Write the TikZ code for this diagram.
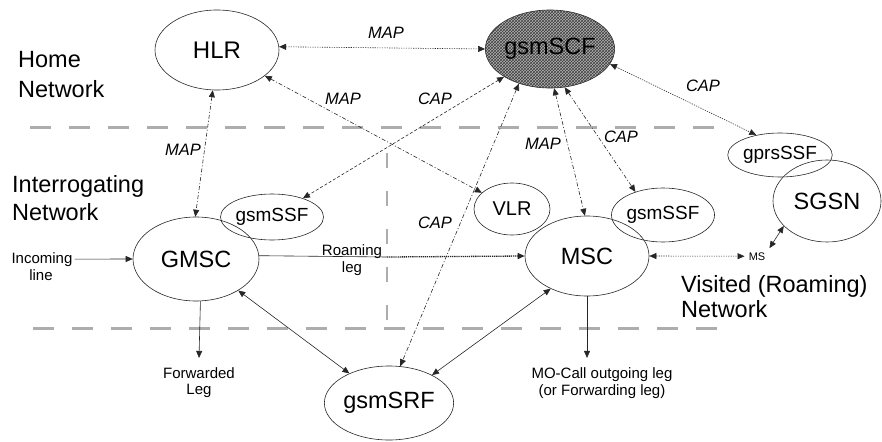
\documentclass[tikz,border=0pt]{standalone}
\usepackage{fontspec}
\setmainfont{Liberation Sans}
\usetikzlibrary{shapes.geometric,arrows.meta,patterns}

\newcommand{\fs}[1]{\fontsize{#1}{#1}\selectfont}

\begin{document}
\begin{tikzpicture}[x=1pt,y=-1pt,
  >={Triangle[length=7pt,width=6pt]},
  net/.style={ellipse, draw=black!85, line width=0.6pt, inner sep=0pt},
  big/.style={font=\fs{23.5}},
  small/.style={font=\fs{19}},
  proto/.style={font=\fs{16.5}\itshape, inner sep=0pt, anchor=base},
  note/.style={font=\fs{15}, inner sep=2pt, anchor=base},
  region/.style={font=\fs{23.5}, inner sep=0pt, anchor=base west},
  sep/.style={draw=black!32, line width=3pt, dash pattern=on 21pt off 18pt},
  vsep/.style={draw=black!32, line width=2pt, dash pattern=on 15pt off 23pt},
  link/.style={draw=black!85, line width=0.6pt},
  dotline/.style={dash pattern=on 1.2pt off 1.2pt},
  dashdot/.style={dash pattern=on 4pt off 2pt on 1pt off 2pt},
  dashline/.style={dash pattern=on 3pt off 2pt}
]
\useasboundingbox (0,0) rectangle (882,441);

% network boundaries
\draw[sep] (30,127) -- (725,127);
\draw[sep] (33,328) -- (730,328);
\draw[vsep] (387,153) -- (387,325);

% region names
\node[region] (home1) at (18,68) {Home};
\node[region] (home2) at (18,98) {Network};
\node[region] (intr1) at (12,192) {Interrogating};
\node[region] (intr2) at (12,220) {Network};
\node[region] (vis1) at (681,292) {Visited (Roaming)};
\node[region] (vis2) at (681,317) {Network};

% functional entities
\node[net, minimum width=124pt, minimum height=80pt, font=\fs{24}] (HLR) at (217,50) {HLR};
\node[net, big, minimum width=124pt, minimum height=78pt, fill=gray!60,
      postaction={pattern=crosshatch, pattern color=black!75}] (SCF) at (550,49) {gsmSCF};
\node[net, small, minimum width=86pt, minimum height=46pt] (SSFa) at (272,217) {gsmSSF};
\node[net, minimum width=76pt, minimum height=52pt, font=\fs{20}] (VLR) at (512,209) {VLR};
\node[net, small, minimum width=87pt, minimum height=54pt] (SSFb) at (663,215) {gsmSSF};
\node[net, small, minimum width=86pt, minimum height=44pt] (gprs) at (780,155) {gprsSSF};
\node[net, big, minimum width=108pt, minimum height=82pt] (SGSN) at (827,201) {SGSN};
\node[net, big, minimum width=126pt, minimum height=84pt] (GMSC) at (196,259) {GMSC};
\node[net, big, minimum width=124pt, minimum height=80pt] (MSC) at (587,256) {MSC};
\node[net, big, minimum width=122pt, minimum height=74pt] (SRF) at (389,403) {gsmSRF};

% call legs and end points
\node[note] (inc1) at (42,263) {Incoming};
\node[note] (inc2) at (41,280) {line};
\node[note, inner sep=0pt] (roam1) at (352,255) {Roaming};
\node[note, inner sep=0pt] (roam2) at (352,272) {leg};
\node[note] (fwd1) at (199,378) {Forwarded};
\node[note] (fwd2) at (199,394) {Leg};
\node[note] (mo1) at (602,378) {MO-Call outgoing leg};
\node[note] (mo2) at (602,395) {(or Forwarding leg)};
\node[font=\fs{11}, inner sep=4pt, anchor=base] (MS) at (757,260) {MS};
\coordinate (roam) at (387,257);

% protocol labels
\node[proto] (map1) at (386,39) {MAP};
\node[proto] (map2) at (343,105) {MAP};
\node[proto] (cap1) at (435,105) {CAP};
\node[proto] (map3) at (183,155) {MAP};
\node[proto] (cap2) at (435,228) {CAP};
\node[proto] (map4) at (543,149) {MAP};
\node[proto] (cap3) at (621,142) {CAP};
\node[proto] (cap4) at (703,92) {CAP};

% signalling interfaces
\draw[link, <->, dotline] (HLR.3) -- (SCF.180);
\draw[link, <->, dashdot] (HLR) -- (VLR);
\draw[link, <->, dashdot] (HLR.-96) -- (GMSC.91);
\draw[link, <->, dashline] (SCF) -- (SSFa);
\draw[link, <->, dashdot] (SCF.-132) -- (SRF.73);
\draw[link, <->, dashdot] (SCF.-84) -- (MSC.93);
\draw[link, <->, dashdot] (SCF.-69) -- (SSFb.140);
\draw[link, <->, dotline] (SCF.-14) -- (gprs.140);

% bearer connections
\draw[link, ->] (inc1.east) -- (GMSC.west);
\draw[link] (GMSC.3) -- (roam);
\draw[link, ->, line width=1.3pt, dash pattern=on 1.3pt off 0.8pt] (roam) -- (MSC.west);
\draw[link, ->] (GMSC.-84) -- ([yshift=7pt]fwd1.north);
\draw[link, ->] (MSC.south) -- ([yshift=7pt]MSC.south |- mo1.north);
\draw[link, <->] (GMSC) -- (SRF);
\draw[link, <->] (MSC.-138) -- (SRF.33);
\draw[link, <->, dotline] (MSC.east) -- (MS.west);
\draw[link, <->] (MS.north east) -- (SGSN.210);
\end{tikzpicture}
\end{document}
